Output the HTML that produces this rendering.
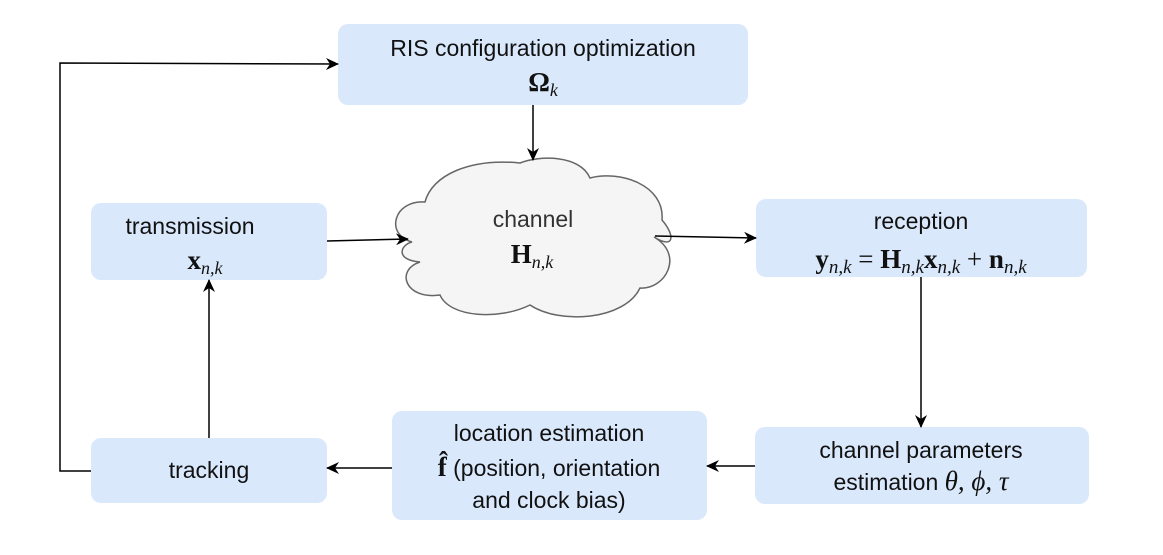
<!DOCTYPE html>
<html><head><meta charset="utf-8"><style>
html,body{margin:0;padding:0;background:#fff;}
svg{display:block;}
text{font-family:"Liberation Sans",sans-serif;font-size:23px;fill:#111;}
.m{font-family:"Liberation Serif",serif;font-weight:bold;font-size:27px;}
.i{font-family:"Liberation Serif",serif;font-style:italic;font-weight:normal;}
</style></head><body>
<svg width="1163" height="555" viewBox="0 0 1163 555">
<defs><marker id="a" markerWidth="13" markerHeight="12" refX="12" refY="6" orient="auto" markerUnits="userSpaceOnUse"><path d="M0,0 L13,6 L0,12 L4,6 z" fill="#000"/></marker></defs>
<g fill="#dae8fc">
<rect x="338" y="24" width="410" height="81" rx="10"/>
<rect x="91" y="203" width="236" height="77" rx="10"/>
<rect x="756" y="199" width="331" height="78" rx="10"/>
<rect x="755" y="427" width="334" height="77" rx="10"/>
<rect x="392" y="411" width="315" height="109" rx="10"/>
<rect x="91" y="438" width="236" height="65" rx="10"/>
</g>
<path d="M412,242 C385,235 393,200 425,202 C432,175 470,158 520,163 C540,155 580,155 590,178 C620,170 665,185 662,220 C675,235 675,250 654,237 C685,255 665,290 640,288 C625,320 560,325 530,305 C500,320 450,318 440,295 C405,300 395,270 420,262 C395,260 400,245 412,242 Z" fill="#f5f5f5" stroke="#666" stroke-width="1.5"/>
<g stroke="#000" stroke-width="1.5" fill="none">
<line x1="533" y1="105" x2="533" y2="160" marker-end="url(#a)"/>
<line x1="327" y1="241" x2="408" y2="239" marker-end="url(#a)"/>
<line x1="655" y1="236" x2="756" y2="238" marker-end="url(#a)"/>
<line x1="921" y1="277" x2="921" y2="427" marker-end="url(#a)"/>
<line x1="755" y1="466" x2="707" y2="466" marker-end="url(#a)"/>
<line x1="392" y1="468" x2="327" y2="468" marker-end="url(#a)"/>
<line x1="209" y1="438" x2="209" y2="280" marker-end="url(#a)"/>
<polyline points="91,471 60,471 60,63 338,64" marker-end="url(#a)"/>
</g>
<g text-anchor="middle">
<text x="543" y="56">RIS configuration optimization</text>
<text x="543" y="91" class="m">Ω<tspan class="i" font-size="18" dy="5">k</tspan></text>
<text x="190" y="234">transmission</text>
<text x="205" y="269" class="m">x<tspan class="i" font-size="18" dy="5">n,k</tspan></text>
<text x="533" y="227" style="fill:#333">channel</text>
<text x="532" y="263" class="m">H<tspan class="i" font-size="18" dy="5">n,k</tspan></text>
<text x="921" y="229">reception</text>
<text x="921" y="268" class="m" font-size="28">y<tspan class="i" font-size="19" dy="5">n,k</tspan><tspan dy="-5" font-weight="normal"> = </tspan>H<tspan class="i" font-size="19" dy="5">n,k</tspan><tspan dy="-5">x</tspan><tspan class="i" font-size="19" dy="5">n,k</tspan><tspan dy="-5" font-weight="normal"> + </tspan>n<tspan class="i" font-size="19" dy="5">n,k</tspan></text>
<text x="921" y="458">channel parameters</text>
<text x="921" y="490">estimation <tspan class="i" font-size="27">θ, ϕ, τ</tspan></text>
<text x="549" y="441">location estimation</text>
<text x="549" y="476"><tspan class="m">f̂</tspan> (position, orientation</text>
<text x="549" y="508">and clock bias)</text>
<text x="209" y="478">tracking</text>
</g>
</svg>
</body></html>
